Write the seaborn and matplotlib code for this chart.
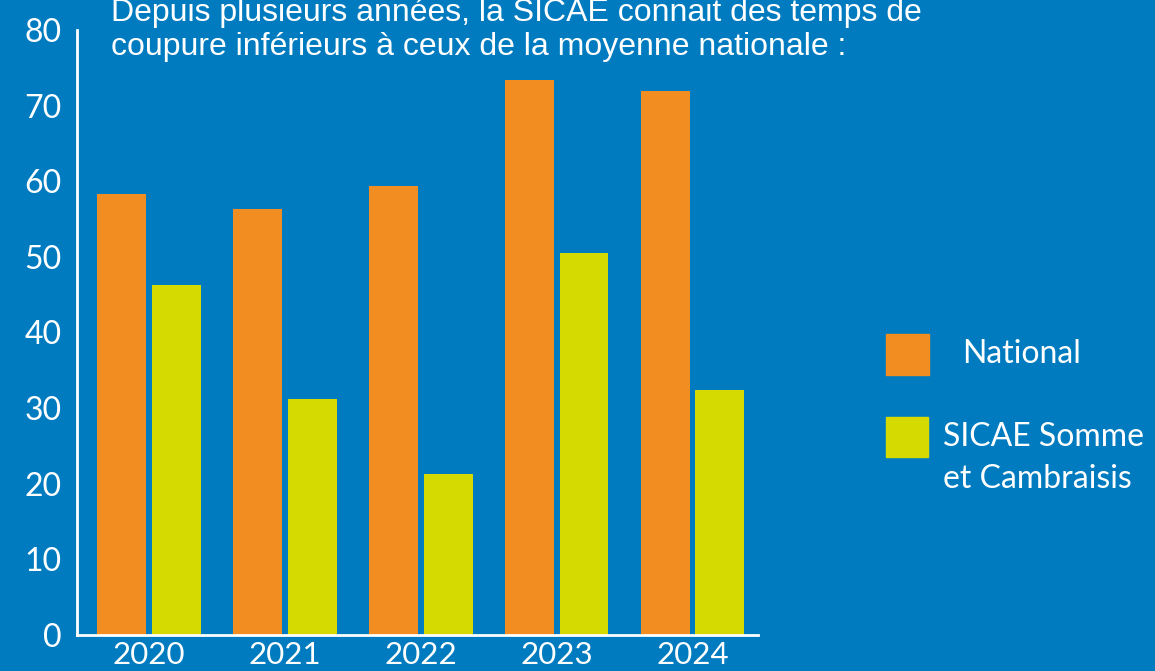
import matplotlib
matplotlib.use("Agg")
import matplotlib.pyplot as plt
import seaborn as sns
import pandas as pd
from matplotlib.patches import Rectangle

years = ["2020", "2021", "2022", "2023", "2024"]
national = [58.3, 56.3, 59.4, 73.4, 72.0]
sicae = [46.3, 31.2, 21.3, 50.5, 32.4]
series_names = ["National", "SICAE Somme\net Cambraisis"]
yticks = [0, 10, 20, 30, 40, 50, 60, 70, 80]
title = "Depuis plusieurs années, la SICAE connait des temps de\ncoupure inférieurs à ceux de la moyenne nationale :"

BG = "#007BC0"
ORANGE = "#F28D22"
YELLOW = "#D5DA00"

df = pd.DataFrame({
    "year": years * 2,
    "value": national + sicae,
    "series": [series_names[0]] * len(years) + [series_names[1]] * len(years),
})

sns.set_theme(style="white")
plt.rcParams["font.family"] = ["Lato", "DejaVu Sans"]

fig = plt.figure(figsize=(11.55, 6.71), dpi=100, facecolor=BG)
ax = fig.add_axes([77 / 1155, 36 / 671, (758 - 77) / 1155, (635 - 30) / 671])
ax.set_facecolor(BG)

sns.barplot(data=df, x="year", y="value", hue="series", order=years,
            hue_order=series_names, palette=[ORANGE, YELLOW],
            width=0.8, gap=0.1, saturation=1, linewidth=0, ax=ax, legend=False)

ax.set_xlim(-0.53, 4.48)
ax.set_ylim(0, 80)
ax.set_yticks(yticks)
ax.set_yticklabels([str(t) for t in yticks])
ax.set_xlabel("")
ax.set_ylabel("")
for s in ["top", "right"]:
    ax.spines[s].set_visible(False)
for s in ["left", "bottom"]:
    ax.spines[s].set_color("white")
    ax.spines[s].set_linewidth(2)
ax.tick_params(axis="both", length=0, colors="white")
ax.tick_params(axis="y", labelsize=23, pad=11)
ax.tick_params(axis="x", labelsize=22.5, pad=4)

fig.text(111 / 1155, 1 - 30 / 671, title, color="white", fontsize=23,
         family=["Liberation Sans", "DejaVu Sans"], va="center", ha="left",
         linespacing=1.15)

# Legend (manual)
fig.patches.append(Rectangle((886 / 1155, 1 - 375 / 671), 43 / 1155, 41 / 671,
                             transform=fig.transFigure, color=ORANGE, figure=fig))
fig.patches.append(Rectangle((886 / 1155, 1 - 457 / 671), 42 / 1155, 40 / 671,
                             transform=fig.transFigure, color=YELLOW, figure=fig))
fig.text(962 / 1155, 1 - 354 / 671, series_names[0], color="white", fontsize=23,
         va="center", ha="left")
fig.text(943 / 1155, 1 - 458 / 671, series_names[1], color="white", fontsize=23,
         va="center", ha="left", linespacing=1.5)

fig.savefig("out.png", dpi=100, facecolor=BG)
